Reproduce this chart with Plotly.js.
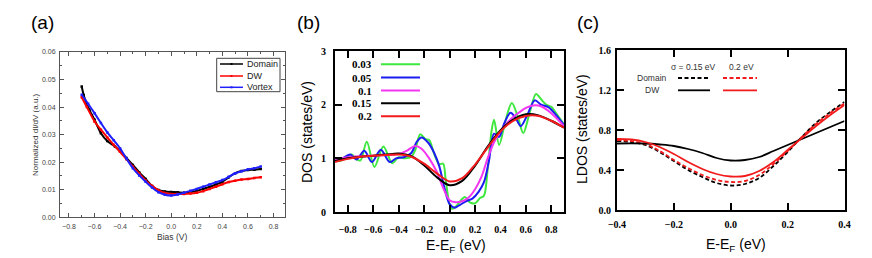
<!DOCTYPE html>
<html><head><meta charset="utf-8">
<script src="https://cdn.plot.ly/plotly-3.0.1.min.js"></script>
<style>html,body{margin:0;padding:0;background:#fff}#g{width:872px;height:258px}</style>
</head><body><div id="g"></div>
<script>
// ---------- Panel (a): measured dI/dV ----------
const aDomainX = [-0.7,-0.685,-0.66,-0.64,-0.6,-0.55,-0.5,-0.44,-0.4,-0.35,-0.3,-0.25,-0.2,-0.15,-0.1,-0.05,0,0.05,0.1,0.15,0.2,0.25,0.3,0.35,0.4,0.45,0.5,0.55,0.6,0.65,0.7];
const aDomainY = [0.0475,0.0444,0.041,0.039,0.0354,0.0305,0.0277,0.0257,0.0240,0.0215,0.0190,0.0163,0.0139,0.0114,0.0099,0.0094,0.0092,0.0091,0.0089,0.0091,0.0096,0.0103,0.0110,0.0119,0.0129,0.0145,0.0160,0.0168,0.0172,0.0173,0.0175];
const aDWX = [-0.7,-0.66,-0.6,-0.55,-0.5,-0.45,-0.4,-0.35,-0.3,-0.25,-0.2,-0.15,-0.1,-0.05,0,0.05,0.1,0.15,0.2,0.25,0.3,0.35,0.4,0.45,0.5,0.55,0.6,0.65,0.7];
const aDWY = [0.0436,0.0400,0.0348,0.0318,0.0290,0.0263,0.0238,0.0211,0.0184,0.0158,0.0134,0.0114,0.0098,0.0088,0.0085,0.0085,0.0085,0.0086,0.0089,0.0095,0.0103,0.0111,0.0120,0.0128,0.0133,0.0137,0.0139,0.0143,0.0145];
const aVortexX = [-0.7,-0.65,-0.6,-0.55,-0.5,-0.45,-0.4,-0.35,-0.3,-0.25,-0.2,-0.15,-0.1,-0.05,0,0.05,0.1,0.15,0.2,0.25,0.3,0.35,0.4,0.45,0.5,0.55,0.6,0.65,0.7];
const aVortexY = [0.0445,0.0412,0.0378,0.0342,0.0308,0.0280,0.0250,0.0213,0.0178,0.0152,0.0129,0.0108,0.0091,0.0082,0.0079,0.0083,0.0089,0.0096,0.0103,0.0111,0.0119,0.0127,0.0135,0.0147,0.0160,0.0167,0.0174,0.0178,0.0184];
const aNames = ["Domain","DW","Vortex"];

// ---------- Panel (b): DOS for several broadenings ----------
const bNames = ["0.03","0.05","0.1","0.15","0.2"];
const b003X = [-0.9,-0.86,-0.81,-0.77,-0.73,-0.70,-0.65,-0.59,-0.52,-0.45,-0.40,-0.35,-0.30,-0.27,-0.23,-0.19,-0.16,-0.12,-0.08,-0.05,-0.03,0.0,0.02,0.05,0.09,0.12,0.16,0.20,0.24,0.27,0.30,0.33,0.35,0.39,0.44,0.49,0.54,0.58,0.63,0.68,0.72,0.76,0.80,0.85,0.9];
const b003Y = [1.0,0.95,1.03,1.07,0.98,0.96,1.31,0.84,1.22,0.91,1.02,1.0,1.03,1.15,1.45,1.36,1.34,1.08,0.89,0.9,0.6,0.15,0.06,0.1,0.22,0.28,0.18,0.16,0.26,0.3,0.8,1.5,1.72,1.25,1.7,2.03,1.75,1.47,1.85,2.2,2.1,2.0,1.96,1.8,1.63];
const b005X = [-0.9,-0.84,-0.78,-0.73,-0.67,-0.61,-0.54,-0.47,-0.42,-0.36,-0.30,-0.26,-0.22,-0.17,-0.12,-0.08,-0.04,0.0,0.04,0.08,0.13,0.18,0.23,0.27,0.31,0.35,0.39,0.43,0.48,0.52,0.56,0.61,0.67,0.72,0.78,0.84,0.9];
const b005Y = [0.95,1.0,1.07,0.98,1.14,0.93,1.16,0.93,1.0,1.02,1.1,1.3,1.39,1.3,1.1,0.85,0.45,0.15,0.08,0.13,0.2,0.25,0.38,0.55,0.95,1.46,1.4,1.65,1.85,1.75,1.6,1.8,2.08,2.0,1.95,1.8,1.62];
const b01X = [-0.9,-0.8,-0.7,-0.6,-0.5,-0.4,-0.33,-0.27,-0.22,-0.16,-0.1,-0.05,0.0,0.05,0.1,0.15,0.2,0.25,0.3,0.35,0.4,0.45,0.5,0.55,0.6,0.67,0.72,0.8,0.9];
const b01Y = [0.97,1.02,1.04,1.05,1.06,1.08,1.15,1.23,1.18,1.0,0.75,0.45,0.22,0.18,0.2,0.27,0.42,0.65,1.0,1.3,1.5,1.65,1.77,1.86,1.94,1.99,1.97,1.84,1.6];
const b015X = [-0.9,-0.8,-0.7,-0.6,-0.5,-0.4,-0.3,-0.2,-0.1,0.0,0.1,0.2,0.3,0.4,0.5,0.6,0.7,0.8,0.9];
const b015Y = [0.95,1.0,1.03,1.05,1.07,1.09,1.04,0.87,0.65,0.5,0.58,0.86,1.22,1.52,1.72,1.82,1.8,1.7,1.57];
const b02X = [-0.9,-0.8,-0.7,-0.6,-0.5,-0.4,-0.3,-0.2,-0.1,0.0,0.1,0.2,0.3,0.4,0.5,0.6,0.7,0.8,0.9];
const b02Y = [0.93,0.99,1.03,1.05,1.06,1.07,1.03,0.9,0.72,0.57,0.63,0.88,1.2,1.5,1.7,1.79,1.79,1.7,1.57];
const bColors = ["#3ee83e","#1c1cf2","#f236f2","#000000","#f21a1a"];

// ---------- Panel (c): LDOS ----------
const cX = [-0.4,-0.35,-0.3,-0.25,-0.2,-0.15,-0.1,-0.05,0,0.05,0.1,0.15,0.2,0.25,0.3,0.35,0.4];
const cDomain015 = [0.69,0.68,0.65,0.58,0.49,0.40,0.33,0.27,0.245,0.26,0.32,0.44,0.58,0.73,0.87,0.98,1.08];
const cDW015 = [0.665,0.667,0.665,0.655,0.64,0.61,0.57,0.52,0.495,0.50,0.53,0.59,0.65,0.71,0.77,0.83,0.89];
const cDomain02 = [0.70,0.69,0.66,0.59,0.50,0.42,0.35,0.30,0.28,0.29,0.35,0.46,0.59,0.73,0.86,0.97,1.065];
const cDW02 = [0.71,0.705,0.68,0.63,0.56,0.48,0.41,0.36,0.335,0.34,0.39,0.48,0.60,0.72,0.84,0.95,1.05];

const W = 872, H = 258;
const PX = p => p / W, PY = p => 1 - p / H;

const traces = [];
const aX = [aDomainX, aDWX, aVortexX], aY = [aDomainY, aDWY, aVortexY], aCol = ["#000000","#ff0000","#2020ff"];
for (let i = 0; i < 3; i++) {
  traces.push({x: aX[i], y: aY[i], name: aNames[i], type: "scatter", mode: "lines+markers",
    line: {color: aCol[i], width: 2, shape: "spline", smoothing: 0.6},
    marker: {color: aCol[i], size: 2.5, symbol: "square"}, xaxis: "x", yaxis: "y", showlegend: false});
}
const bX = [b003X, b005X, b01X, b015X, b02X], bY = [b003Y, b005Y, b01Y, b015Y, b02Y];
for (let i = 0; i < 5; i++) {
  traces.push({x: bX[i], y: bY[i], name: bNames[i], type: "scatter", mode: "lines",
    line: {color: bColors[i], width: 2, shape: "spline", smoothing: 0.9},
    xaxis: "x2", yaxis: "y2", showlegend: false});
}
const cSeries = [
  {y: cDomain015, c: "#000000", d: "4px,2.5px"},
  {y: cDomain02, c: "#f21a1a", d: "4px,2.5px"},
  {y: cDW015, c: "#000000", d: "solid"},
  {y: cDW02, c: "#f21a1a", d: "solid"}];
cSeries.forEach(s => traces.push({x: cX, y: s.y, type: "scatter", mode: "lines",
  line: {color: s.c, width: 1.8, dash: s.d, shape: "spline"}, xaxis: "x3", yaxis: "y3", showlegend: false}));

const serif = {family: "Liberation Serif", size: 10, color: "#000", weight: 700};
const axA = {showline: true, linecolor: "#555", linewidth: 1, mirror: "ticks", ticks: "inside", ticklen: 4,
  tickcolor: "#555", tickwidth: 1, showgrid: false, zeroline: false,
  tickfont: {family: "Liberation Sans", size: 7, color: "#444"}};
const axB = {showline: true, linecolor: "#000", linewidth: 2, mirror: "ticks", ticks: "inside", ticklen: 7,
  tickcolor: "#000", tickwidth: 2, showgrid: false, zeroline: false, tickfont: serif};

const layout = {
  width: W, height: H, margin: {l: 0, r: 0, t: 0, b: 0}, paper_bgcolor: "#fff", plot_bgcolor: "#fff",
  showlegend: false,
  xaxis: Object.assign({}, axA, {domain: [PX(60), PX(285)], range: [-0.87, 0.89], dtick: 0.2, tick0: 0,
    tickformat: ".1f", anchor: "y", minor: {dtick: 0.1, ticks: "inside", ticklen: 2, tickcolor: "#555"}, ticklabelstandoff: 2}),
  yaxis: Object.assign({}, axA, {domain: [PY(217.3), PY(52)], range: [0, 0.06], dtick: 0.01,
    tickformat: ".2f", anchor: "x", minor: {dtick: 0.005, ticks: "inside", ticklen: 2, tickcolor: "#555"}, ticklabelstandoff: 2}),
  xaxis2: Object.assign({}, axB, {domain: [PX(335), PX(564)], range: [-0.9, 0.9], dtick: 0.2, tick0: 0,
    tickformat: ".1f", anchor: "y2", ticklabelstandoff: 7}),
  yaxis2: Object.assign({}, axB, {domain: [PY(212), PY(51)], range: [0, 3], dtick: 1, anchor: "x2", ticklabelstandoff: 5}),
  xaxis3: Object.assign({}, axB, {domain: [PX(617), PX(844.5)], range: [-0.4, 0.4], dtick: 0.2, tick0: 0,
    tickformat: ".1f", anchor: "y3", ticklabelstandoff: 4}),
  yaxis3: Object.assign({}, axB, {domain: [PY(210), PY(50)], range: [0, 1.6], dtick: 0.4, tickformat: ".1f",
    anchor: "x3", ticklabelstandoff: 2}),
  annotations: [], shapes: []
};

const ann = (text, x, y, o) => layout.annotations.push(Object.assign({text, x: PX(x), y: PY(y), xref: "paper", yref: "paper",
  showarrow: false, xanchor: "center", yanchor: "middle", font: {family: "Liberation Sans", size: 14, color: "#000"}}, o || {}));
const seg = (x0, x1, y, color, dash, w) => layout.shapes.push({type: "line", xref: "paper", yref: "paper",
  x0: PX(x0), x1: PX(x1), y0: PY(y), y1: PY(y), line: {color, width: w || 2, dash: dash || "solid"}});

// panel labels
ann("(a)", 42, 22, {font: {family: "Liberation Sans", size: 19, color: "#000"}});
ann("(b)", 308, 22, {font: {family: "Liberation Sans", size: 19, color: "#000"}});
ann("(c)", 588, 22, {font: {family: "Liberation Sans", size: 19, color: "#000"}});

// axis titles
ann("Normalized dI/dV (a.u.)", 35, 135, {textangle: -90, font: {family: "Liberation Sans", size: 8, color: "#333"}});
ann("Bias (V)", 172, 237, {font: {family: "Liberation Sans", size: 8.5, color: "#333"}});
ann("DOS (states/eV)", 307, 132, {textangle: -90, font: {family: "Liberation Sans", size: 14, color: "#000"}});
ann("E-E<sub>F</sub> (eV)", 456, 246, {font: {family: "Liberation Sans", size: 14, color: "#000"}});
ann("LDOS (states/eV)", 582, 129, {textangle: -90, font: {family: "Liberation Sans", size: 14, color: "#000"}});
ann("E-E<sub>F</sub> (eV)", 736, 245, {font: {family: "Liberation Sans", size: 14, color: "#000"}});

// legend (a)
layout.shapes.push({type: "rect", xref: "paper", yref: "paper", x0: PX(216.7), x1: PX(280), y0: PY(91.7), y1: PY(58.3),
  line: {color: "#444", width: 1}, fillcolor: "#fff"});
const aLegY = [64, 76, 87.3];
for (let i = 0; i < 3; i++) {
  seg(220, 243, aLegY[i], aCol[i], "solid", 1.5);
  layout.shapes.push({type: "rect", xref: "paper", yref: "paper", x0: PX(230.5), x1: PX(232.5), y0: PY(aLegY[i] + 1), y1: PY(aLegY[i] - 1),
    line: {width: 0}, fillcolor: aCol[i]});
  ann(aNames[i], 244.5, aLegY[i], {xanchor: "left", font: {family: "Liberation Sans", size: 9, color: "#222"}});
}

// legend (b)
const bLegY = [64.3, 77.6, 90.6, 103.2, 116.3];
for (let i = 0; i < 5; i++) {
  seg(381, 420, bLegY[i], bColors[i], "solid", 2);
  ann(bNames[i], 374, bLegY[i], {xanchor: "right", font: {family: "Liberation Serif", size: 11, color: "#000", weight: 700}});
}

// legend (c)
ann("\u03c3 = 0.15 eV", 693, 67, {font: {family: "Liberation Sans", size: 8.5, color: "#333"}});
ann("0.2 eV", 741, 67, {font: {family: "Liberation Sans", size: 8.5, color: "#333"}});
ann("Domain", 652, 78, {font: {family: "Liberation Sans", size: 8.5, color: "#333"}});
ann("DW", 652, 90, {font: {family: "Liberation Sans", size: 8.5, color: "#333"}});
seg(678, 710, 78, "#000", "4px,2.5px", 1.8);
seg(723, 757, 78, "#f21a1a", "4px,2.5px", 1.8);
seg(678, 710, 90.3, "#000", "solid", 1.8);
seg(723, 757, 90.3, "#f21a1a", "solid", 1.8);

Plotly.newPlot("g", traces, layout, {staticPlot: true, displayModeBar: false});
</script></body></html>
